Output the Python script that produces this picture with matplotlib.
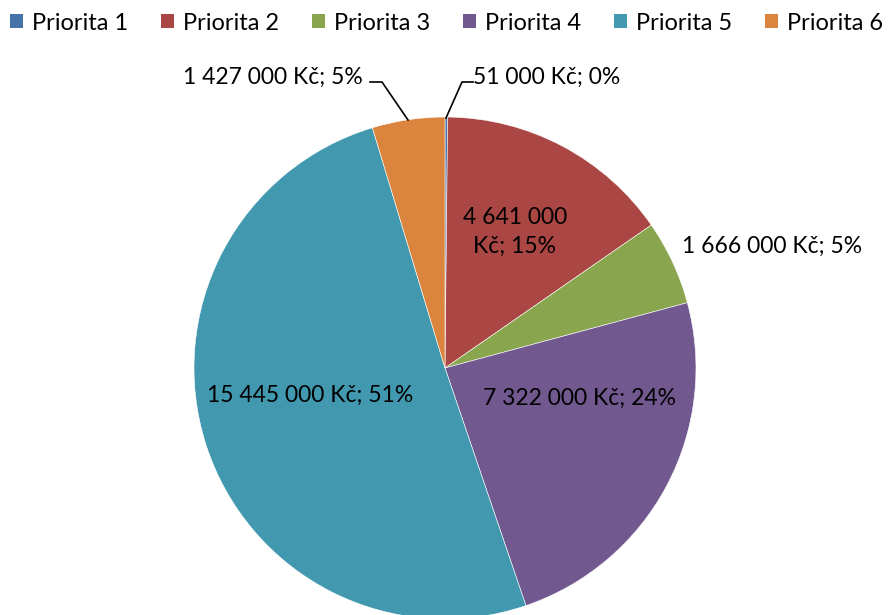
import matplotlib.pyplot as plt
from matplotlib.patches import Patch

plt.rcParams['font.family'] = ['Lato', 'DejaVu Sans']

labels = ['Priorita 1', 'Priorita 2', 'Priorita 3', 'Priorita 4', 'Priorita 5', 'Priorita 6']
values = [51000, 4641000, 1666000, 7322000, 15445000, 1427000]
colors = ['#4672AA', '#AA4643', '#89A54E', '#71588F', '#4198AF', '#DB843D']
texts = ['51 000 Kč; 0%', '4 641 000\nKč; 15%', '1 666 000 Kč; 5%',
         '7 322 000 Kč; 24%', '15 445 000 Kč; 51%', '1 427 000 Kč; 5%']

W, H = 893, 615
fig = plt.figure(figsize=(W / 100, H / 100), dpi=100)
cx, cy, r = 445, 368, 251
ax = fig.add_axes([(cx - r) / W, (H - cy - r) / H, 2 * r / W, 2 * r / H])
ax.pie(values, colors=colors, startangle=90, counterclock=False,
       wedgeprops=dict(edgecolor='white', linewidth=0.4), radius=1)
ax.set_xlim(-1, 1)
ax.set_ylim(-1, 1)
ax.set_aspect('equal')
ax.axis('off')

def px(x, y):
    return ((x - cx) / r, (cy - y) / r)

fs = 16.5
# label positions (pixel centres)
pos = [(547, 77), (515, 232), (772, 246), (580, 398), (310, 395), (273, 77)]
for t, (x, y) in zip(texts, pos):
    ax.text(*px(x, y), t, ha='center', va='center', fontsize=fs,
            linespacing=1.45, clip_on=False)

# leader lines
for pts in ([(473, 82), (462, 82), (446, 118)], [(370, 82), (382, 82), (408, 120)]):
    xs, ys = zip(*[px(*p) for p in pts])
    ax.plot(xs, ys, color='black', lw=1.2, clip_on=False)

handles = [Patch(facecolor=c, edgecolor='none') for c in colors]
fig.legend(handles, labels, loc='center', bbox_to_anchor=(0.5, 1 - 23 / H), ncol=6,
           frameon=False, fontsize=17, handlelength=0.55, handleheight=0.55,
           handletextpad=0.38, columnspacing=1.4, borderaxespad=0)

fig.savefig('out.png', dpi=100)
